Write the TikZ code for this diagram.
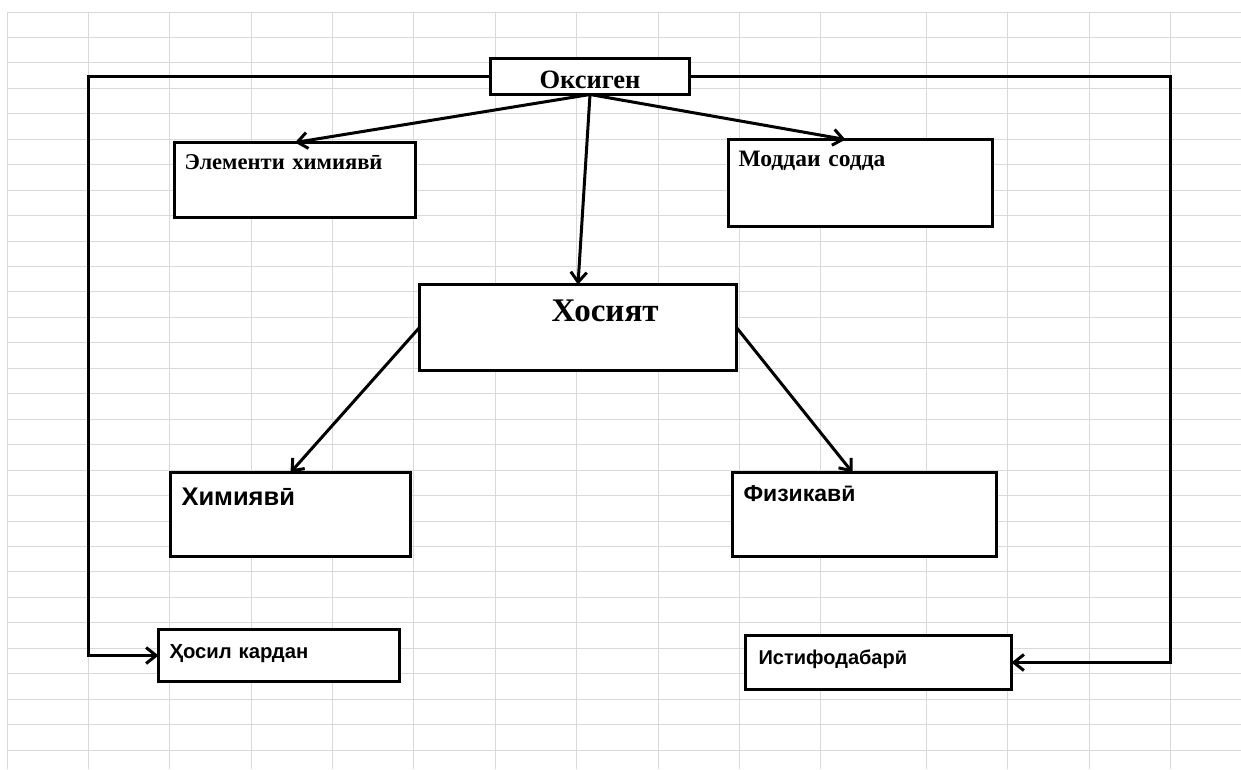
\documentclass[tikz,border=0pt]{standalone}
\usepackage{fontspec}
\setmainfont{Liberation Serif}
\newfontfamily\tahomaish{Liberation Sans}
\usetikzlibrary{positioning, arrows.meta}
\definecolor{sheetgray}{RGB}{217,217,217}

\begin{document}
\begin{tikzpicture}[x=1pt, y=-1pt,
    cell/.style={draw, rectangle, fill=white, line width=3.2pt, anchor=north west,
        align=left, inner ysep=0pt, outer sep=0pt},
    serifhead/.style={font=\bfseries\fontsize{#1}{#1}\selectfont},
    sanshead/.style={font=\tahomaish\bfseries\fontsize{#1}{#1}\selectfont},
    link/.style={line width=3pt, -{Straight Barb[length=10pt, width=16pt]}},
    gridline/.style={draw=sheetgray, line width=1pt}]
    \useasboundingbox (0,0) rectangle (1241,769);

    % spreadsheet grid
    \foreach \gx in {7,88,169,251,332,413,495,576,658,739,820,926,1007,1089,1170}
        \draw[gridline] (\gx,12) -- (\gx,769);
    \foreach \k in {0,...,29}
        \draw[gridline] (7,12+25.45*\k) -- (1241,12+25.45*\k);

    % boxes, placed by their top left corners
    \node[cell, serifhead=26.5, align=center, inner xsep=0pt, text width=199pt,
        text height=29.8pt, text depth=6.2pt] (oxy) at (490.5,58.5) {Оксиген};
    \node[cell, serifhead=22.6, inner xsep=10pt, text width=221pt,
        text height=26.5pt, text depth=48.5pt] (elem) at (174.5,142.5) {Элементи химиявӣ};
    \node[cell, serifhead=23.5, inner xsep=10pt, text width=244pt,
        text height=26.5pt, text depth=60.5pt] (modda) at (728.5,139.5) {Моддаи содда};
    \node[cell, serifhead=33, inner xsep=0pt, text width=317pt,
        text height=37.2pt, text depth=48.8pt] (hos) at (419.5,284.5) {\hspace*{132pt}Хосият};
    \node[cell, sanshead=25.5, inner xsep=11pt, text width=218pt,
        text height=32.5pt, text depth=51.5pt] (kim) at (170.5,472.5) {Химиявӣ};
    \node[cell, sanshead=23, inner xsep=11pt, text width=242pt,
        text height=29.2pt, text depth=54.8pt] (fiz) at (732.5,472.5) {Физикавӣ};
    \node[cell, sanshead=20.3, inner xsep=11pt, text width=219pt,
        text height=28.8pt, text depth=23.2pt] (hosil) at (158.5,629.5) {Ҳосил кардан};
    \node[cell, sanshead=20, inner xsep=13pt, text width=240pt,
        text height=29.3pt, text depth=24.7pt] (istif) at (745.5,635.5) {Истифодабарӣ};

    % rails round the outside
    \coordinate (lrail) at (88,400);
    \coordinate (rrail) at (1170,400);

    \draw[link] (oxy.south) -- (elem.north);
    \draw[link] (oxy.south) -- ([xshift=-15pt]modda.north);
    \draw[link] (oxy.south) -- (hos.north);
    \draw[link] (hos.west) -- (kim.north);
    \draw[link] (hos.east) -- ([xshift=-12pt]fiz.north);
    \draw[link] (oxy.west) -| (lrail) |- (hosil.west);
    \draw[link] (oxy.east) -| (rrail) |- (istif.east);
\end{tikzpicture}
\end{document}
